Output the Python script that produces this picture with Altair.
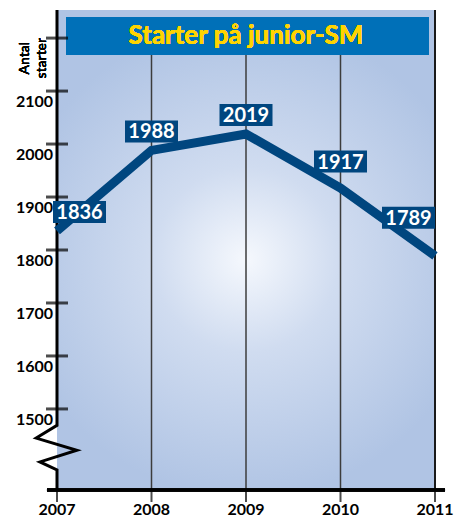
import altair as alt
import pandas as pd

# ---- data ----
years = [2007, 2008, 2009, 2010, 2011]
starts = [1836, 1988, 2019, 1917, 1789]
y_tick_values = [1500, 1600, 1700, 1800, 1900, 2000, 2100, 2200]
y_label_values = [1500, 1600, 1700, 1800, 1900, 2000, 2100]
title_text = "Starter på junior-SM"
y_title = ["Antal", "starter"]

# ---- styling ----
W, H = 378, 480
Y_MIN, Y_MAX = 1347, 2253
X_MIN, X_MAX = 2007, 2011
DARK = "#00467f"
FONT = "Lato"
label_dx = [22.5, 0, 0, 0, -26.5]
label_dy = [-19, -19, -19, -26.5, -38]
ytitle_dx = [-32, -15]

df = pd.DataFrame({"year": years, "value": starts})
xs = alt.Scale(domain=[X_MIN, X_MAX], nice=False, zero=False)
ys = alt.Scale(domain=[Y_MIN, Y_MAX], nice=False, zero=False)

# background with radial gradient
bg = alt.Chart(df).mark_rect(
    fill=alt.RadialGradient(
        gradient="radial",
        stops=[alt.GradientStop(color="#f5f8fd", offset=0),
               alt.GradientStop(color="#d0dcf0", offset=0.35),
               alt.GradientStop(color="#b0c4e4", offset=0.9)],
        x1=0.5, y1=0.52, x2=0.5, y2=0.52, r1=0, r2=0.55),
).encode(
    x=alt.XDatum(X_MIN, scale=xs, axis=None), x2=alt.datum(X_MAX),
    y=alt.YDatum(Y_MIN, scale=ys, axis=None), y2=alt.datum(Y_MAX),
)

# vertical gridlines
grid_df = pd.DataFrame({"year": years[1:4]})
grid = alt.Chart(grid_df).mark_rule(color="#3c3c3c", strokeWidth=1.5).encode(
    x=alt.X("year:Q", scale=xs, axis=None),
    y=alt.YDatum(Y_MIN, axis=None), y2=alt.datum(2170),
)
right_line = alt.Chart(df).mark_rule(color="#1a1a1a", strokeWidth=2).encode(
    x=alt.XDatum(X_MAX, axis=None), y=alt.YDatum(Y_MIN, axis=None),
    y2=alt.datum(Y_MAX),
)

# title box
title_box = alt.Chart(df).mark_rect(color="#0070b8").encode(
    x=alt.value(9), x2=alt.value(372), y=alt.value(7), y2=alt.value(45),
)
title = alt.Chart(df).mark_text(
    text=title_text, font=FONT, fontWeight="bold", fontSize=26,
    color="#ffd400", align="center", baseline="middle",
).encode(x=alt.value(189), y=alt.value(26))

# y ticks crossing the axis
ytick_df = pd.DataFrame({"v": y_tick_values, "year": [X_MIN] * len(y_tick_values)})
yticks = alt.Chart(ytick_df).mark_tick(
    orient="horizontal", size=22, thickness=3, color="black"
).encode(
    x=alt.X("year:Q", scale=xs, axis=None),
    y=alt.Y("v:Q", scale=ys, axis=None),
)

# y labels
ylab_df = pd.DataFrame({"v": y_label_values, "year": [X_MIN] * len(y_label_values)})
ylabels = alt.Chart(ylab_df).mark_text(
    font=FONT, fontWeight="bold", fontSize=16, color="black",
    align="right", baseline="middle", xOffset=-4, yOffset=11,
).encode(
    x=alt.X("year:Q", scale=xs, axis=None),
    y=alt.Y("v:Q", scale=ys, axis=None),
    text=alt.Text("v:Q", format="d"),
)

# y title (two rotated lines)
ytitles = []
for word, off in zip(y_title, ytitle_dx):
    ytitles.append(alt.Chart(df).mark_text(
        text=word, font=FONT, fontSize=14, color="black", angle=270,
        align="center", baseline="middle", xOffset=off,
    ).encode(x=alt.XDatum(X_MIN, axis=None), y=alt.YDatum(2162, axis=None)))

# y axis line with break zigzag
ax_df = pd.DataFrame({
    "x": [2007, 2007, 2006.78, 2007.21, 2006.82, 2007, 2007],
    "y": [Y_MAX, 1469, 1445, 1422, 1400, 1385, Y_MIN],
    "o": list(range(7)),
})
yaxis_line = alt.Chart(ax_df).mark_line(
    color="black", strokeWidth=3, strokeJoin="miter"
).encode(
    x=alt.X("x:Q", scale=xs, axis=None),
    y=alt.Y("y:Q", scale=ys, axis=None),
    order="o:Q",
)

# x axis line, ticks and labels
xaxis_line = alt.Chart(df).mark_rule(color="black", strokeWidth=3).encode(
    x=alt.XDatum(2006.894, axis=None), x2=alt.datum(2011.106),
    y=alt.YDatum(Y_MIN, axis=None),
)
xticks = alt.Chart(df).mark_tick(
    orient="vertical", size=12, thickness=2, color="black", yOffset=6,
).encode(
    x=alt.X("year:Q", scale=xs, axis=None),
    y=alt.YDatum(Y_MIN, axis=None),
)
xlabels = alt.Chart(df).mark_text(
    font=FONT, fontWeight="bold", fontSize=16, color="black",
    align="center", baseline="middle", yOffset=20,
).encode(
    x=alt.X("year:Q", scale=xs, axis=None),
    y=alt.YDatum(Y_MIN, axis=None),
    text=alt.Text("year:Q", format="d"),
)

# data line
line = alt.Chart(df).mark_line(
    color=DARK, strokeWidth=9, strokeCap="butt", strokeJoin="miter"
).encode(
    x=alt.X("year:Q", scale=xs, axis=None),
    y=alt.Y("value:Q", scale=ys, axis=None),
)

layers = [bg, grid, right_line, title_box, title, yticks, ylabels] + ytitles + [
    yaxis_line, xaxis_line, xticks, xlabels, line]

box_path = "M-1,-0.415H1V0.415H-1Z"
for i, (yr, v) in enumerate(zip(years, starts)):
    one = df[df["year"] == yr]
    box = alt.Chart(one).mark_point(
        shape=box_path, size=53 * 53, filled=True, opacity=1,
        color=DARK, xOffset=label_dx[i], yOffset=label_dy[i],
    ).encode(x=alt.X("year:Q", scale=xs, axis=None),
             y=alt.Y("value:Q", scale=ys, axis=None))
    txt = alt.Chart(one).mark_text(
        font=FONT, fontWeight="bold", fontSize=20, color="white",
        align="center", baseline="middle",
        xOffset=label_dx[i], yOffset=label_dy[i] + 1,
    ).encode(x=alt.X("year:Q", scale=xs, axis=None),
             y=alt.Y("value:Q", scale=ys, axis=None),
             text="value:Q")
    layers += [box, txt]

chart = alt.layer(*layers).properties(
    width=W, height=H, autosize="none",
    padding={"left": 49, "top": 2, "right": 22, "bottom": 31},
).configure_view(stroke=None)

chart.save("out.html", embed_options={"renderer": "svg", "actions": False})
